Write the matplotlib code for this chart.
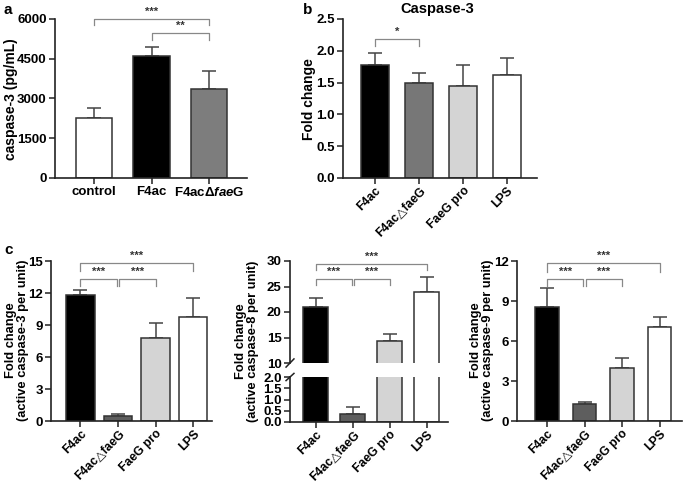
import matplotlib.pyplot as plt
import numpy as np

plt.rcParams['font.family'] = ['Liberation Sans', 'DejaVu Sans']
plt.rcParams['font.weight'] = 'bold'
plt.rcParams['mathtext.fontset'] = 'custom'
plt.rcParams['mathtext.rm'] = 'Liberation Sans:bold'
plt.rcParams['mathtext.it'] = 'Liberation Sans:bold:italic'

# panel a - caspase-3 ELISA
a_groups = ['control', 'F4ac', r'F4ac$\Delta\mathit{fae}$G']
a_means = [2250, 4620, 3350]
a_tops = [2650, 4950, 4020]
a_colors = ['white', 'black', '#7d7d7d']

# panel b - caspase-3 fold change
b_groups = ['F4ac', 'F4ac\u25b3faeG', 'FaeG pro', 'LPS']
b_means = [1.77, 1.49, 1.45, 1.62]
b_tops = [1.96, 1.65, 1.77, 1.89]
b_colors = ['black', '#777777', '#d4d4d4', 'white']

# panel c - active caspase-3 / -8 / -9
c_groups = ['F4ac', 'F4ac\u25b3faeG', 'FaeG pro', 'LPS']
c3_means = [11.8, 0.45, 7.8, 9.75]
c3_tops = [12.25, 0.7, 9.15, 11.5]
c8_means = [20.9, 0.37, 14.4, 24.0]
c8_tops = [22.8, 0.65, 15.6, 26.8]
c9_means = [8.55, 1.3, 3.95, 7.05]
c9_tops = [10.0, 1.45, 4.7, 7.8]
c_colors = ['black', '#5e5e5e', '#d4d4d4', 'white']

W, H = 685, 483
fig = plt.figure(figsize=(6.85, 4.83), dpi=100)
TICK_FS = 9.5


def px_axes(x0, x1, ytop, ybot):
    return fig.add_axes([x0 / W, 1 - ybot / H, (x1 - x0) / W, (ybot - ytop) / H])


def style(ax):
    for s in ['top', 'right']:
        ax.spines[s].set_visible(False)
    for s in ['left', 'bottom']:
        ax.spines[s].set_linewidth(1.2)
        ax.spines[s].set_color('#222222')
    ax.tick_params(direction='out', length=4, width=1.1, labelsize=TICK_FS, color='#222222', pad=2)
    for lab in ax.get_yticklabels():
        lab.set_fontweight('bold')


def bars(ax, means, tops, colors, width):
    x = np.arange(len(means))
    ax.bar(x, means, width=width, color=colors, edgecolor='#333333', linewidth=1.1, zorder=2)
    up = np.array(tops) - np.array(means)
    ax.errorbar(x, means, yerr=[np.zeros(len(means)), up], fmt='none',
                ecolor='#444444', elinewidth=1.1, capsize=5, capthick=1.1, zorder=1)
    return x


def rot_labels(ax, labels):
    ax.set_xticks(np.arange(len(labels)))
    ax.set_xticklabels(labels, rotation=45, ha='right', rotation_mode='anchor',
                       fontsize=8.8, fontweight='bold')
    ax.tick_params(axis='x', pad=1)


def bracket(ax, x1, x2, y, h, text, fs=8):
    ax.plot([x1, x1, x2, x2], [y - h, y, y, y - h], color='#888888', lw=0.9, clip_on=False)
    ax.text((x1 + x2) / 2, y + h * 0.3, text, ha='center', va='bottom', fontsize=fs,
            color='#333333', clip_on=False)


def ylab(x, y, text, fs=9.3):
    fig.text(x / W, 1 - y / H, text, fontsize=fs, fontweight='bold', rotation=90,
             ha='center', va='center', multialignment='center', linespacing=0.92)


# ---- a ----
ax = px_axes(55, 247, 19, 178)
x = bars(ax, a_means, a_tops, a_colors, 0.64)
ax.set_xlim(-0.68, 2.66)
ax.set_ylim(0, 6000)
ax.set_yticks([0, 1500, 3000, 4500, 6000])
ax.set_xticks(x)
ax.set_xticklabels(a_groups, fontsize=TICK_FS, fontweight='bold')
style(ax)
ylab(11, 99, 'caspase-3 (pg/mL)', fs=10)
bracket(ax, 0, 2, 6000, 230, '***')
bracket(ax, 1, 2, 5470, 270, '**')
fig.text(3 / W, 1 - 10 / H, 'a', fontsize=11, fontweight='bold', va='center')

# ---- b ----
ax = px_axes(343, 537, 19, 178)
bars(ax, b_means, b_tops, b_colors, 0.64)
ax.set_xlim(-0.73, 3.68)
ax.set_ylim(0, 2.5)
ax.set_yticks([0, 0.5, 1.0, 1.5, 2.0, 2.5])
ax.set_yticklabels(['0.0', '0.5', '1.0', '1.5', '2.0', '2.5'])
style(ax)
rot_labels(ax, b_groups)
ylab(309, 99, 'Fold change', fs=10)
bracket(ax, 0, 1, 2.19, 0.11, '*')
ax.set_title('Caspase-3', fontsize=10.5, fontweight='bold', x=0.485, y=1.0, pad=4)
fig.text(303 / W, 1 - 10 / H, 'b', fontsize=11, fontweight='bold', va='center')

# ---- c: caspase-3 ----
ax = px_axes(51, 212, 261, 421)
bars(ax, c3_means, c3_tops, c_colors, 0.76)
ax.set_xlim(-0.78, 3.5)
ax.set_ylim(0, 15)
ax.set_yticks([0, 3, 6, 9, 12, 15])
style(ax)
rot_labels(ax, c_groups)
ylab(17, 340, 'Fold change\n(active caspase-3 per unit)')
bracket(ax, 0, 3, 14.8, 0.75, '***')
bracket(ax, 0, 0.97, 13.3, 0.65, '***')
bracket(ax, 1.03, 2, 13.3, 0.65, '***')
fig.text(4 / W, 1 - 250 / H, 'c', fontsize=11, fontweight='bold', va='center')

# ---- c: caspase-8 (broken axis) ----
ax_up = px_axes(290, 448, 261, 363)
ax_lo = px_axes(290, 448, 377, 422)
for a_ in (ax_up, ax_lo):
    bars(a_, c8_means, c8_tops, c_colors, 0.68)
    a_.set_xlim(-0.70, 3.57)
ax_up.set_ylim(10, 30)
ax_up.set_yticks([10, 15, 20, 25, 30])
ax_lo.set_ylim(0, 2)
ax_lo.set_yticks([0, 0.5, 1.0, 1.5, 2.0])
ax_lo.set_yticklabels(['0.0', '0.5', '1.0', '1.5', '2.0'])
style(ax_up)
style(ax_lo)
rot_labels(ax_lo, c_groups)
ax_up.spines['bottom'].set_visible(False)
ax_up.tick_params(axis='x', bottom=False, labelbottom=False)
ylab(247, 341, 'Fold change\n(active caspase-8 per unit)')
# break marks
d = 0.025
ax_up.plot([-d, d], [-0.04, 0.04], transform=ax_up.transAxes, color='#222222', lw=1.1, clip_on=False)
ax_lo.plot([-d, d], [0.92, 1.08], transform=ax_lo.transAxes, color='#222222', lw=1.1, clip_on=False)
bracket(ax_up, 0, 3, 29.4, 1.2, '***')
bracket(ax_up, 0, 0.97, 26.5, 1.2, '***')
bracket(ax_up, 1.03, 2, 26.5, 1.2, '***')

# ---- c: caspase-9 ----
ax = px_axes(517, 682, 261, 421)
bars(ax, c9_means, c9_tops, c_colors, 0.62)
ax.set_xlim(-0.8, 3.6)
ax.set_ylim(0, 12)
ax.set_yticks([0, 3, 6, 9, 12])
style(ax)
rot_labels(ax, c_groups)
ylab(482, 340, 'Fold change\n(active caspase-9 per unit)')
bracket(ax, 0, 3, 11.85, 0.65, '***')
bracket(ax, 0, 0.97, 10.65, 0.55, '***')
bracket(ax, 1.03, 2, 10.65, 0.55, '***')

fig.savefig('out.png', dpi=100)
